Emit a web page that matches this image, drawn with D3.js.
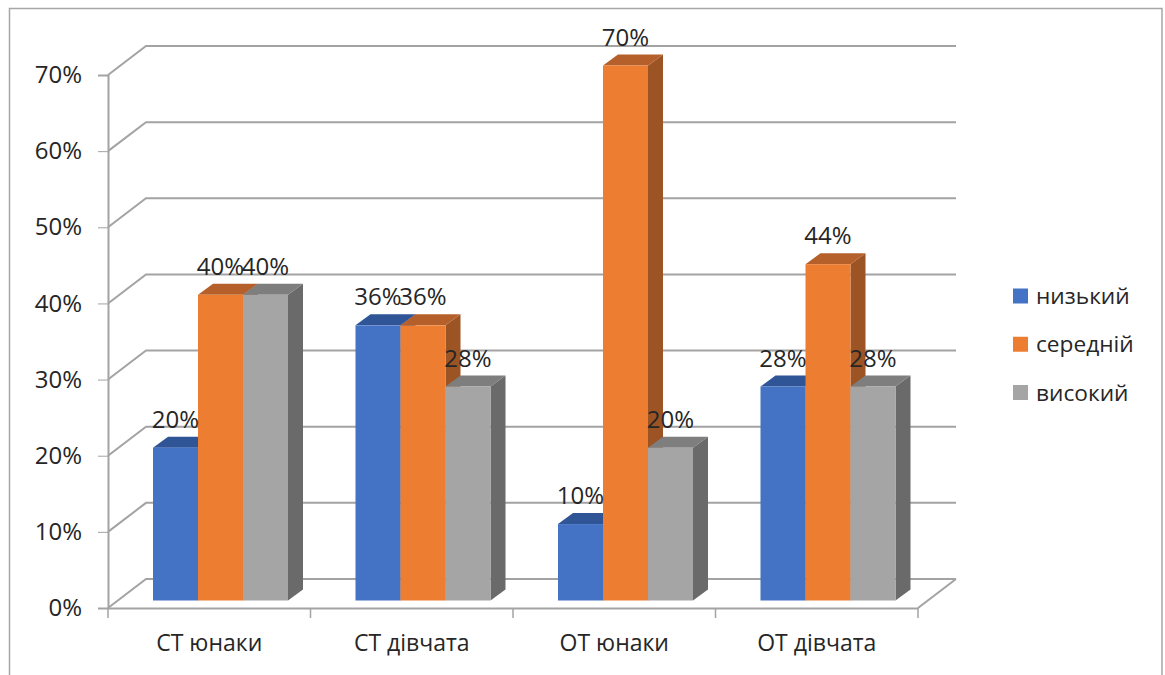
<!DOCTYPE html>
<html>
<head>
<meta charset="utf-8">
<script src="https://cdn.jsdelivr.net/npm/d3@7"></script>
<style>
  html, body { margin: 0; padding: 0; background: #fff; }
  svg { display: block; }
  text { font-family: "Open Sans", sans-serif; fill: #262626; }
</style>
</head>
<body>
<svg id="svg" width="1165" height="675"></svg>
<script>
const categories = ["СТ юнаки", "СТ дівчата", "ОТ юнаки", "ОТ дівчата"]
const seriesNames = ["низький", "середній", "високий"]
const low = [20, 36, 10, 28]
const mid = [40, 36, 70, 44]
const high = [40, 28, 20, 28]
const yTicks = [0, 10, 20, 30, 40, 50, 60, 70]

const seriesValues = [low, mid, high]
const colors = [
  { front: "#4472c4", top: "#2f5597", side: "#335693" },
  { front: "#ed7d31", top: "#b5602a", side: "#9c5424" },
  { front: "#a5a5a5", top: "#7e7e7e", side: "#6a6a6a" },
]

const gridColor = "#a3a3a3"
// offset of the back wall from the front plane
const wall = { dx: 38, dy: -29 }
// offset of the back face of a bar from its front
const depth = { dx: 15, dy: -11 }

const svg = d3.select("#svg")

const x = d3.scaleBand().domain(categories).range([108, 918])
const xInner = d3.scaleBand().domain(d3.range(3)).range([45, 180])
const y = d3.scaleLinear().domain([0, 70]).range([608, 75])
const yBar = d3.scaleLinear().domain([0, 70]).range([600.5, 65.5])

// chart frame, open at the bottom
svg.append("path")
  .attr("d", "M9.5,675V8.5H1162V675")
  .attr("fill", "none")
  .attr("stroke", "#a6a6a6")
  .attr("stroke-width", 1.5)

// gridlines
const line = d3.line()
svg.append("g")
  .selectAll("path")
  .data(yTicks)
  .join("path")
  .attr("d", (d) => line([
    [x.range()[0], y(d)],
    [x.range()[0] + wall.dx, y(d) + wall.dy],
    [x.range()[1] + wall.dx, y(d) + wall.dy],
  ]))
  .attr("fill", "none")
  .attr("stroke", gridColor)
  .attr("stroke-width", 2)

// right edge of the floor
svg.append("path")
  .attr("d", line([
    [x.range()[1], y(0)],
    [x.range()[1] + wall.dx, y(0) + wall.dy],
  ]))
  .attr("stroke", gridColor)
  .attr("stroke-width", 2)

const yAxis = (g) => {
  g.attr("transform", `translate(${x.range()[0]}, 0)`)
    .call(d3.axisLeft(y).tickValues(yTicks).tickSize(10).tickPadding(16).tickFormat((d) => d + "%"))
    .attr("font-size", "24px")
    .attr("font-family", null)
  g.selectAll("line, path").attr("stroke", gridColor)
  g.select("path").attr("stroke-width", 2)
}

const xAxis = (g) => {
  g.attr("transform", `translate(0, ${y(0)})`)
    .call(d3.axisBottom(x).tickSize(0).tickPadding(27))
    .attr("font-size", "23px")
    .attr("font-family", null)
  g.select("path").attr("stroke", gridColor).attr("stroke-width", 2)
  // ticks sit between the categories
  g.selectAll(".sep")
    .data(d3.range(categories.length + 1))
    .join("line")
    .attr("class", "sep")
    .attr("x1", (i) => x.range()[0] + i * x.step())
    .attr("x2", (i) => x.range()[0] + i * x.step())
    .attr("y1", 0)
    .attr("y2", 10)
    .attr("stroke", gridColor)
    .attr("stroke-width", 1.5)
}

svg.append("g").call(yAxis)
svg.append("g").call(xAxis)

// bars, left to right so each one covers the side of the one before
const bars = []
categories.forEach((c, ci) => {
  seriesValues.forEach((values, si) => {
    bars.push({ c, si, value: values[ci] })
  })
})

const barG = svg.append("g")
  .selectAll("g")
  .data(bars)
  .join("g")

const barX = (d) => x(d.c) + xInner(d.si)
const barW = xInner.bandwidth()

barG.append("path")
  .attr("fill", (d) => colors[d.si].side)
  .attr("d", (d) => {
    const x1 = barX(d) + barW
    return line([
      [x1, yBar(d.value)],
      [x1 + depth.dx, yBar(d.value) + depth.dy],
      [x1 + depth.dx, yBar(0) + depth.dy],
      [x1, yBar(0)],
    ]) + "Z"
  })

barG.append("path")
  .attr("fill", (d) => colors[d.si].top)
  .attr("d", (d) => line([
    [barX(d), yBar(d.value)],
    [barX(d) + depth.dx, yBar(d.value) + depth.dy],
    [barX(d) + barW + depth.dx, yBar(d.value) + depth.dy],
    [barX(d) + barW, yBar(d.value)],
  ]) + "Z")

barG.append("rect")
  .attr("x", barX)
  .attr("y", (d) => yBar(d.value))
  .attr("width", barW)
  .attr("height", (d) => yBar(0) - yBar(d.value))
  .attr("fill", (d) => colors[d.si].front)

// data labels
svg.append("g")
  .selectAll("text")
  .data(bars)
  .join("text")
  .attr("x", (d) => barX(d) + barW / 2)
  .attr("y", (d) => yBar(d.value) - 20)
  .attr("text-anchor", "middle")
  .attr("font-size", "24px")
  .text((d) => d.value + "%")

// legend
const legendY = d3.scalePoint().domain(seriesNames).range([296, 392.5])
const legend = svg.append("g")
  .selectAll("g")
  .data(seriesNames)
  .join("g")
  .attr("transform", (d) => `translate(1013, ${legendY(d)})`)

legend.append("rect")
  .attr("y", -7.5)
  .attr("width", 15)
  .attr("height", 15)
  .attr("fill", (d, i) => colors[i].front)

legend.append("text")
  .attr("x", 23)
  .attr("y", 8)
  .attr("font-size", "22.7px")
  .text((d) => d)
</script>
</body>
</html>
